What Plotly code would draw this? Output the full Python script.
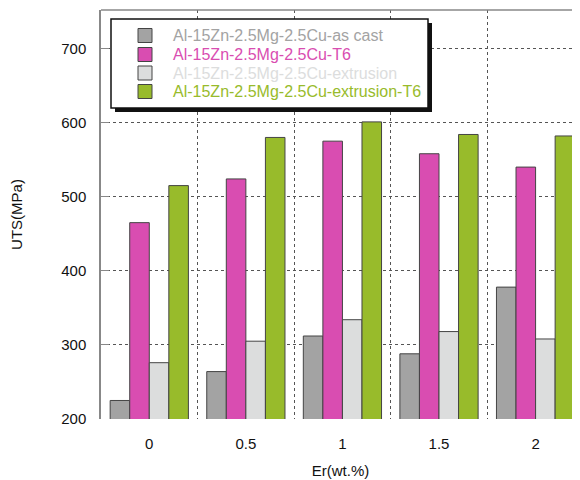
import plotly.graph_objects as go

categories = ["0", "0.5", "1", "1.5", "2"]
series_names = [
    "Al-15Zn-2.5Mg-2.5Cu-as cast",
    "Al-15Zn-2.5Mg-2.5Cu-T6",
    "Al-15Zn-2.5Mg-2.5Cu-extrusion",
    "Al-15Zn-2.5Mg-2.5Cu-extrusion-T6",
]
as_cast = [225, 264, 312, 288, 378]
t6 = [465, 524, 575, 558, 540]
extrusion = [276, 305, 334, 318, 308]
extrusion_t6 = [515, 580, 601, 584, 582]
series_values = [as_cast, t6, extrusion, extrusion_t6]
colors = ["#a3a3a3", "#d94db1", "#dcdddd", "#98bb2b"]
y_ticks = [200, 300, 400, 500, 600, 700]

FONT = "Liberation Sans, Arial, sans-serif"

# page body has an 8px default margin; compensate so the figure lands at the same spot
W, H = 572, 472
ML, MR, MT, MB = 93, 0, 2, 61
PW, PH = W - ML - MR, H - MT - MB
OFF = 8


def px(x):  # page pixel x -> paper
    return (x - OFF - ML) / PW


def py(y):  # page pixel y -> paper
    return 1 - (y - OFF - MT) / PH


fig = go.Figure()
for name, vals, col in zip(series_names, series_values, colors):
    fig.add_trace(go.Bar(
        x=categories, y=vals, name=name, showlegend=False,
        marker=dict(color=col, line=dict(color="#444444", width=1)),
    ))

# invisible trace to carry the right-side ticks
fig.add_trace(go.Scatter(x=categories, y=as_cast, yaxis="y2",
                         mode="markers", marker=dict(opacity=0), showlegend=False,
                         hoverinfo="skip"))

shapes = [
    dict(type="line", xref="paper", yref="paper", x0=0, x1=1, y0=1, y1=1,
         line=dict(color="#888888", width=1.5), layer="above"),
    # legend shadow and box
    dict(type="rect", xref="paper", yref="paper",
         x0=px(115), x1=px(432), y0=py(112), y1=py(23),
         fillcolor="#111111", line=dict(width=0), layer="above"),
    dict(type="rect", xref="paper", yref="paper",
         x0=px(111), x1=px(428), y0=py(108), y1=py(19),
         fillcolor="white", line=dict(color="#111111", width=1.5), layer="above"),
]
annotations = []
row_y = [35.5, 54.5, 73, 91.5]
for name, col, ry in zip(series_names, colors, row_y):
    shapes.append(dict(type="rect", xref="paper", yref="paper",
                       x0=px(138), x1=px(152), y0=py(ry + 7), y1=py(ry - 7),
                       fillcolor=col, line=dict(color="#444444", width=1), layer="above"))
    annotations.append(dict(x=px(171), y=py(ry), xref="paper", yref="paper",
                            text=name, showarrow=False, xanchor="left", yanchor="middle",
                            font=dict(family=FONT, size=16, color=col)))

fig.update_layout(
    width=W, height=H,
    margin=dict(l=ML, r=MR, t=MT, b=MB),
    paper_bgcolor="white", plot_bgcolor="white",
    barmode="group", bargap=0.19, bargroupgap=0,
    font=dict(family=FONT, size=15, color="#111111"),
    showlegend=False,
    xaxis=dict(
        type="category", range=[-0.5, 4.46],
        tickson="boundaries", ticks="", showline=False,
        showgrid=True, gridcolor="#555555", griddash="dot", gridwidth=1,
        ticklabelstandoff=14,
        title=dict(text="Er(wt.%)", font=dict(size=15), standoff=14),
    ),
    yaxis=dict(
        range=[200, 752], tickvals=y_ticks,
        ticks="inside", ticklen=8, tickcolor="#888888", tickwidth=1,
        showline=True, linecolor="#888888", linewidth=1.5,
        showgrid=True, gridcolor="#555555", griddash="dot", gridwidth=1,
        ticklabelstandoff=10, zeroline=False,
        title=dict(text="UTS(MPa)", font=dict(size=15), standoff=40),
    ),
    yaxis2=dict(
        range=[200, 752], tickvals=y_ticks, overlaying="y", side="right",
        ticks="inside", ticklen=6, tickcolor="#888888", showticklabels=False,
        showline=False, showgrid=False, zeroline=False,
    ),
    shapes=shapes,
    annotations=annotations,
)

fig.write_html("out.html")
